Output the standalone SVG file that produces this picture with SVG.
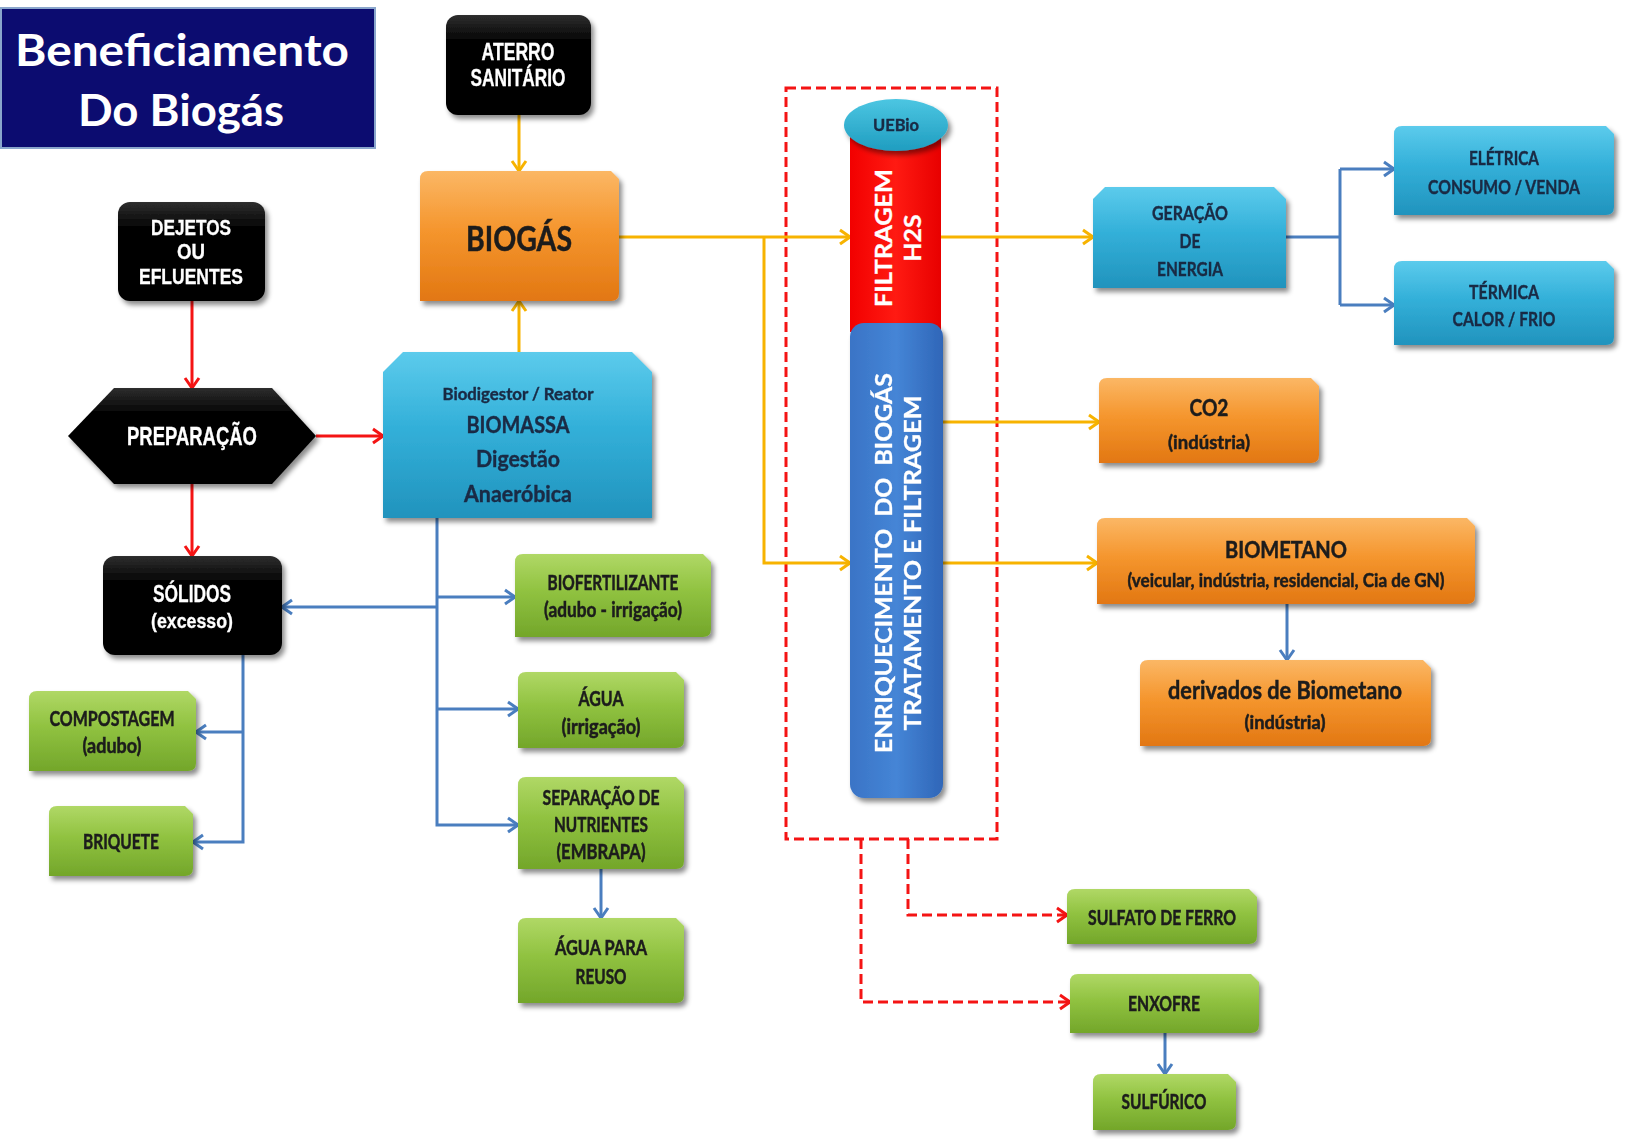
<svg xmlns="http://www.w3.org/2000/svg" width="1625" height="1139" viewBox="0 0 1625 1139">
  <style>
    .blk { font-family: "Liberation Sans", Arial, sans-serif; font-weight: bold; fill: #ffffff; text-anchor: middle; stroke: #ffffff; stroke-width: 0.3px; }
    .lbl { font-family: Lato, "Open Sans", "Liberation Sans", sans-serif; font-weight: bold; fill: #1c1c1c; text-anchor: middle; stroke: #1c1c1c; stroke-width: 0.5px; }
    .lblb { font-family: Lato, "Open Sans", "Liberation Sans", sans-serif; font-weight: bold; fill: #1a2a44; text-anchor: middle; stroke: #1a2a44; stroke-width: 0.4px; }
    .vert { font-family: Lato, "Open Sans", "Liberation Sans", sans-serif; font-weight: bold; fill: #ffffff; text-anchor: middle; dominant-baseline: central; stroke: #ffffff; stroke-width: 0.3px; }
    .title { font-family: Lato, "Open Sans", "Liberation Sans", sans-serif; font-weight: bold; fill: #ffffff; text-anchor: middle; }
    .y { fill: none; stroke: #f7b300; stroke-width: 3; }
    .r { fill: none; stroke: #f41414; stroke-width: 3; }
    .b { fill: none; stroke: #4a7ebf; stroke-width: 3; }
    .rd { fill: none; stroke: #f41414; stroke-width: 3; stroke-dasharray: 10 5; }
  </style>
  <defs>
    <filter id="sh" x="-10%" y="-10%" width="130%" height="140%">
      <feDropShadow dx="3" dy="4" stdDeviation="2.5" flood-color="#000" flood-opacity="0.45"/>
    </filter>
    <linearGradient id="gBlack" x1="0" y1="0" x2="0" y2="1">
      <stop offset="0" stop-color="#2e2e2e"/>
      <stop offset="0.25" stop-color="#050505"/>
      <stop offset="1" stop-color="#000000"/>
    </linearGradient>
    <linearGradient id="gOrange" x1="0" y1="0" x2="0" y2="1">
      <stop offset="0" stop-color="#fbb765"/>
      <stop offset="0.45" stop-color="#f5962e"/>
      <stop offset="1" stop-color="#e27712"/>
    </linearGradient>
    <linearGradient id="gCyan" x1="0" y1="0" x2="0" y2="1">
      <stop offset="0" stop-color="#5ccbec"/>
      <stop offset="0.45" stop-color="#33b0d9"/>
      <stop offset="1" stop-color="#2193bd"/>
    </linearGradient>
    <linearGradient id="gGreen" x1="0" y1="0" x2="0" y2="1">
      <stop offset="0" stop-color="#b0d866"/>
      <stop offset="0.45" stop-color="#90c240"/>
      <stop offset="1" stop-color="#73a62a"/>
    </linearGradient>
    <linearGradient id="gCol" x1="0" y1="0" x2="1" y2="0">
      <stop offset="0" stop-color="#3a74c6"/>
      <stop offset="0.5" stop-color="#4585d6"/>
      <stop offset="1" stop-color="#2f66b8"/>
    </linearGradient>
    <linearGradient id="gRed" x1="0" y1="0" x2="1" y2="0">
      <stop offset="0" stop-color="#f20000"/>
      <stop offset="0.5" stop-color="#ff1a12"/>
      <stop offset="1" stop-color="#e80000"/>
    </linearGradient>
    <linearGradient id="gTeal" x1="0" y1="0" x2="0" y2="1">
      <stop offset="0" stop-color="#4cc6e2"/>
      <stop offset="1" stop-color="#1f9dc0"/>
    </linearGradient>
    <marker id="aY" viewBox="0 0 14 18" refX="12" refY="9" markerWidth="14" markerHeight="18" markerUnits="userSpaceOnUse" orient="auto">
      <path d="M2,2 L12,9 L2,16" fill="none" stroke="#f7b300" stroke-width="3"/>
    </marker>
    <marker id="aR" viewBox="0 0 14 18" refX="12" refY="9" markerWidth="14" markerHeight="18" markerUnits="userSpaceOnUse" orient="auto">
      <path d="M2,2 L12,9 L2,16" fill="none" stroke="#f41414" stroke-width="3" stroke-dasharray="none"/>
    </marker>
    <marker id="aB" viewBox="0 0 14 18" refX="12" refY="9" markerWidth="14" markerHeight="18" markerUnits="userSpaceOnUse" orient="auto">
      <path d="M2,2 L12,9 L2,16" fill="none" stroke="#4a7ebf" stroke-width="3"/>
    </marker>
  </defs>

  <rect width="1625" height="1139" fill="#ffffff"/>

  <!-- title block -->
  <g id="title">
    <rect x="1" y="8" width="374" height="140" fill="#0c0c70" stroke="#8aa6cc" stroke-width="2"/>
    <text class="title" x="182" y="66" font-size="44" textLength="334" lengthAdjust="spacingAndGlyphs">Beneficiamento</text>
    <text class="title" x="181" y="126" font-size="44" textLength="206" lengthAdjust="spacingAndGlyphs">Do Biogás</text>
  </g>

  <!-- dashed enclosure of the treatment unit -->
  <g id="unit-frame">
    <rect x="786" y="88" width="211" height="751" fill="none" stroke="#f41414" stroke-width="3" stroke-dasharray="10 5"/>
  </g>

  <!-- connectors -->
  <g id="connectors">
    <path class="y" d="M519,115 V171" marker-end="url(#aY)"/>
    <path class="y" d="M519,352 V301" marker-end="url(#aY)"/>
    <path class="y" d="M619,237 H850" marker-end="url(#aY)"/>
    <path class="y" d="M764,237 V563 H850" marker-end="url(#aY)"/>
    <path class="y" d="M941,237 H1093" marker-end="url(#aY)"/>
    <path class="y" d="M943,422 H1099" marker-end="url(#aY)"/>
    <path class="y" d="M943,563 H1097" marker-end="url(#aY)"/>

    <path class="r" d="M192,301 V388" marker-end="url(#aR)"/>
    <path class="r" d="M316,436 H383" marker-end="url(#aR)"/>
    <path class="r" d="M192,484 V556" marker-end="url(#aR)"/>

    <path class="b" d="M437,518 V825 H518" marker-end="url(#aB)"/>
    <path class="b" d="M437,597 H515" marker-end="url(#aB)"/>
    <path class="b" d="M437,709 H518" marker-end="url(#aB)"/>
    <path class="b" d="M437,607 H282" marker-end="url(#aB)"/>
    <path class="b" d="M243,655 V842 H193" marker-end="url(#aB)"/>
    <path class="b" d="M243,732 H196" marker-end="url(#aB)"/>
    <path class="b" d="M601,869 V918" marker-end="url(#aB)"/>
    <path class="b" d="M1286,237 H1340"/>
    <path class="b" d="M1340,169 V305"/>
    <path class="b" d="M1340,169 H1394" marker-end="url(#aB)"/>
    <path class="b" d="M1340,305 H1394" marker-end="url(#aB)"/>
    <path class="b" d="M1287,604 V660" marker-end="url(#aB)"/>
    <path class="b" d="M1165,1033 V1074" marker-end="url(#aB)"/>

    <path class="rd" d="M908,839 V915 H1067" marker-end="url(#aR)"/>
    <path class="rd" d="M861,839 V1002 H1070" marker-end="url(#aR)"/>
  </g>

  <!-- source nodes -->
  <g id="aterro" filter="url(#sh)">
    <rect x="446" y="15" width="145" height="100" rx="12" fill="url(#gBlack)"/>
    <text class="blk" x="518" y="60" font-size="23" textLength="73" lengthAdjust="spacingAndGlyphs">ATERRO</text>
    <text class="blk" x="518" y="86" font-size="23" textLength="95" lengthAdjust="spacingAndGlyphs">SANITÁRIO</text>
  </g>

  <g id="dejetos" filter="url(#sh)">
    <rect x="118" y="202" width="147" height="99" rx="12" fill="url(#gBlack)"/>
    <text class="blk" x="191" y="235" font-size="22" textLength="80" lengthAdjust="spacingAndGlyphs">DEJETOS</text>
    <text class="blk" x="191" y="259" font-size="22" textLength="28" lengthAdjust="spacingAndGlyphs">OU</text>
    <text class="blk" x="191" y="284" font-size="22" textLength="104" lengthAdjust="spacingAndGlyphs">EFLUENTES</text>
  </g>

  <g id="preparacao" filter="url(#sh)">
    <polygon points="68,436 114,388 272,388 316,436 272,484 114,484" fill="url(#gBlack)"/>
    <text class="blk" x="192" y="445" font-size="25" textLength="130" lengthAdjust="spacingAndGlyphs">PREPARAÇÃO</text>
  </g>

  <g id="solidos" filter="url(#sh)">
    <rect x="103" y="556" width="179" height="99" rx="12" fill="url(#gBlack)"/>
    <text class="blk" x="192" y="602" font-size="24" textLength="78" lengthAdjust="spacingAndGlyphs">SÓLIDOS</text>
    <text class="blk" x="192" y="628" font-size="20" textLength="82" lengthAdjust="spacingAndGlyphs">(excesso)</text>
  </g>

  <g id="biogas" filter="url(#sh)">
    <path d="M420,179 Q420,171 428,171 H611 L619,179 V293 Q619,301 611,301 H420 Z" fill="url(#gOrange)"/>
    <text class="lbl" x="519" y="251" font-size="35" textLength="106" lengthAdjust="spacingAndGlyphs">BIOGÁS</text>
  </g>

  <g id="biodigestor" filter="url(#sh)">
    <path d="M403,352 H632 L652,372 V518 H383 V372 Z" fill="url(#gCyan)"/>
    <text class="lblb" x="518" y="400" font-size="17" textLength="151" lengthAdjust="spacingAndGlyphs">Biodigestor / Reator</text>
    <text class="lblb" x="518" y="433" font-size="23" textLength="103" lengthAdjust="spacingAndGlyphs">BIOMASSA</text>
    <text class="lblb" x="518" y="467" font-size="23" textLength="84" lengthAdjust="spacingAndGlyphs">Digestão</text>
    <text class="lblb" x="518" y="502" font-size="23" textLength="108" lengthAdjust="spacingAndGlyphs">Anaeróbica</text>
  </g>

  <!-- digestate products -->
  <g id="biofertilizante" filter="url(#sh)">
    <path d="M515,562 Q515,554 523,554 H703 L711,562 V629 Q711,637 703,637 H515 Z" fill="url(#gGreen)"/>
    <text class="lbl" x="613" y="590" font-size="20" textLength="131" lengthAdjust="spacingAndGlyphs">BIOFERTILIZANTE</text>
    <text class="lbl" x="613" y="617" font-size="20" textLength="138" lengthAdjust="spacingAndGlyphs">(adubo - irrigação)</text>
  </g>

  <g id="agua" filter="url(#sh)">
    <path d="M518,680 Q518,672 526,672 H676 L684,680 V740 Q684,748 676,748 H518 Z" fill="url(#gGreen)"/>
    <text class="lbl" x="601" y="706" font-size="20" textLength="45" lengthAdjust="spacingAndGlyphs">ÁGUA</text>
    <text class="lbl" x="601" y="734" font-size="20" textLength="79" lengthAdjust="spacingAndGlyphs">(irrigação)</text>
  </g>

  <g id="separacao" filter="url(#sh)">
    <path d="M518,785 Q518,777 526,777 H676 L684,785 V861 Q684,869 676,869 H518 Z" fill="url(#gGreen)"/>
    <text class="lbl" x="601" y="805" font-size="20" textLength="117" lengthAdjust="spacingAndGlyphs">SEPARAÇÃO DE</text>
    <text class="lbl" x="601" y="832" font-size="20" textLength="94" lengthAdjust="spacingAndGlyphs">NUTRIENTES</text>
    <text class="lbl" x="601" y="859" font-size="20" textLength="89" lengthAdjust="spacingAndGlyphs">(EMBRAPA)</text>
  </g>

  <g id="agua-reuso" filter="url(#sh)">
    <path d="M518,926 Q518,918 526,918 H676 L684,926 V995 Q684,1003 676,1003 H518 Z" fill="url(#gGreen)"/>
    <text class="lbl" x="601" y="955" font-size="20" textLength="92" lengthAdjust="spacingAndGlyphs">ÁGUA PARA</text>
    <text class="lbl" x="601" y="984" font-size="20" textLength="51" lengthAdjust="spacingAndGlyphs">REUSO</text>
  </g>

  <g id="compostagem" filter="url(#sh)">
    <path d="M29,699 Q29,691 37,691 H188 L196,699 V763 Q196,771 188,771 H29 Z" fill="url(#gGreen)"/>
    <text class="lbl" x="112" y="726" font-size="20" textLength="125" lengthAdjust="spacingAndGlyphs">COMPOSTAGEM</text>
    <text class="lbl" x="112" y="753" font-size="20" textLength="59" lengthAdjust="spacingAndGlyphs">(adubo)</text>
  </g>

  <g id="briquete" filter="url(#sh)">
    <path d="M49,814 Q49,806 57,806 H185 L193,814 V868 Q193,876 185,876 H49 Z" fill="url(#gGreen)"/>
    <text class="lbl" x="121" y="849" font-size="20" textLength="76" lengthAdjust="spacingAndGlyphs">BRIQUETE</text>
  </g>

  <!-- treatment column -->
  <g id="filtragem">
    <rect x="850" y="135" width="91" height="197" fill="url(#gRed)"/>
    <text class="vert" x="883" y="238" font-size="22" textLength="138" lengthAdjust="spacingAndGlyphs" transform="rotate(-90 883 238)">FILTRAGEM</text>
    <text class="vert" x="912" y="238" font-size="22" textLength="47" lengthAdjust="spacingAndGlyphs" transform="rotate(-90 912 238)">H2S</text>
  </g>

  <g id="uebio" filter="url(#sh)">
    <ellipse cx="896" cy="125" rx="52" ry="26" fill="url(#gTeal)"/>
    <text class="lblb" x="896" y="131" font-size="17" textLength="46" lengthAdjust="spacingAndGlyphs">UEBio</text>
  </g>

  <g id="enriquecimento" filter="url(#sh)">
    <rect x="850" y="323" width="93" height="475" rx="14" fill="url(#gCol)"/>
    <text class="vert" x="883" y="563" font-size="23" textLength="380" lengthAdjust="spacingAndGlyphs" transform="rotate(-90 883 563)" xml:space="preserve">ENRIQUECIMENTO  DO  BIOGÁS</text>
    <text class="vert" x="912" y="563" font-size="23" textLength="335" lengthAdjust="spacingAndGlyphs" transform="rotate(-90 912 563)">TRATAMENTO E FILTRAGEM</text>
  </g>

  <!-- energy and gas products -->
  <g id="geracao" filter="url(#sh)">
    <path d="M1105,187 H1274 L1286,199 V288 H1093 V199 Z" fill="url(#gCyan)"/>
    <text class="lblb" x="1190" y="220" font-size="19" textLength="76" lengthAdjust="spacingAndGlyphs">GERAÇÃO</text>
    <text class="lblb" x="1190" y="248" font-size="19" textLength="21" lengthAdjust="spacingAndGlyphs">DE</text>
    <text class="lblb" x="1190" y="276" font-size="19" textLength="66" lengthAdjust="spacingAndGlyphs">ENERGIA</text>
  </g>

  <g id="eletrica" filter="url(#sh)">
    <path d="M1394,134 Q1394,126 1402,126 H1606 L1614,134 V207 Q1614,215 1606,215 H1394 Z" fill="url(#gCyan)"/>
    <text class="lblb" x="1504" y="165" font-size="19" textLength="70" lengthAdjust="spacingAndGlyphs">ELÉTRICA</text>
    <text class="lblb" x="1504" y="194" font-size="19" textLength="152" lengthAdjust="spacingAndGlyphs">CONSUMO / VENDA</text>
  </g>

  <g id="termica" filter="url(#sh)">
    <path d="M1394,269 Q1394,261 1402,261 H1606 L1614,269 V337 Q1614,345 1606,345 H1394 Z" fill="url(#gCyan)"/>
    <text class="lblb" x="1504" y="299" font-size="19" textLength="70" lengthAdjust="spacingAndGlyphs">TÉRMICA</text>
    <text class="lblb" x="1504" y="326" font-size="19" textLength="103" lengthAdjust="spacingAndGlyphs">CALOR / FRIO</text>
  </g>

  <g id="co2" filter="url(#sh)">
    <path d="M1099,386 Q1099,378 1107,378 H1311 L1319,386 V455 Q1319,463 1311,463 H1099 Z" fill="url(#gOrange)"/>
    <text class="lbl" x="1209" y="416" font-size="23" textLength="39" lengthAdjust="spacingAndGlyphs">CO2</text>
    <text class="lbl" x="1209" y="449" font-size="19" textLength="82" lengthAdjust="spacingAndGlyphs">(indústria)</text>
  </g>

  <g id="biometano" filter="url(#sh)">
    <path d="M1097,526 Q1097,518 1105,518 H1467 L1475,526 V596 Q1475,604 1467,604 H1097 Z" fill="url(#gOrange)"/>
    <text class="lbl" x="1286" y="558" font-size="23" textLength="122" lengthAdjust="spacingAndGlyphs">BIOMETANO</text>
    <text class="lbl" x="1286" y="587" font-size="19" textLength="317" lengthAdjust="spacingAndGlyphs">(veicular, indústria, residencial, Cia de GN)</text>
  </g>

  <g id="derivados" filter="url(#sh)">
    <path d="M1140,668 Q1140,660 1148,660 H1423 L1431,668 V738 Q1431,746 1423,746 H1140 Z" fill="url(#gOrange)"/>
    <text class="lbl" x="1285" y="699" font-size="25" textLength="234" lengthAdjust="spacingAndGlyphs">derivados de Biometano</text>
    <text class="lbl" x="1285" y="729" font-size="18" textLength="81" lengthAdjust="spacingAndGlyphs">(indústria)</text>
  </g>

  <!-- sulphur by-products -->
  <g id="sulfato" filter="url(#sh)">
    <path d="M1067,897 Q1067,889 1075,889 H1249 L1257,897 V936 Q1257,944 1249,944 H1067 Z" fill="url(#gGreen)"/>
    <text class="lbl" x="1162" y="925" font-size="20" textLength="148" lengthAdjust="spacingAndGlyphs">SULFATO DE FERRO</text>
  </g>

  <g id="enxofre" filter="url(#sh)">
    <path d="M1070,982 Q1070,974 1078,974 H1251 L1259,982 V1025 Q1259,1033 1251,1033 H1070 Z" fill="url(#gGreen)"/>
    <text class="lbl" x="1164" y="1011" font-size="20" textLength="72" lengthAdjust="spacingAndGlyphs">ENXOFRE</text>
  </g>

  <g id="sulfurico" filter="url(#sh)">
    <path d="M1093,1082 Q1093,1074 1101,1074 H1228 L1236,1082 V1122 Q1236,1130 1228,1130 H1093 Z" fill="url(#gGreen)"/>
    <text class="lbl" x="1164" y="1109" font-size="20" textLength="85" lengthAdjust="spacingAndGlyphs">SULFÚRICO</text>
  </g>
</svg>
